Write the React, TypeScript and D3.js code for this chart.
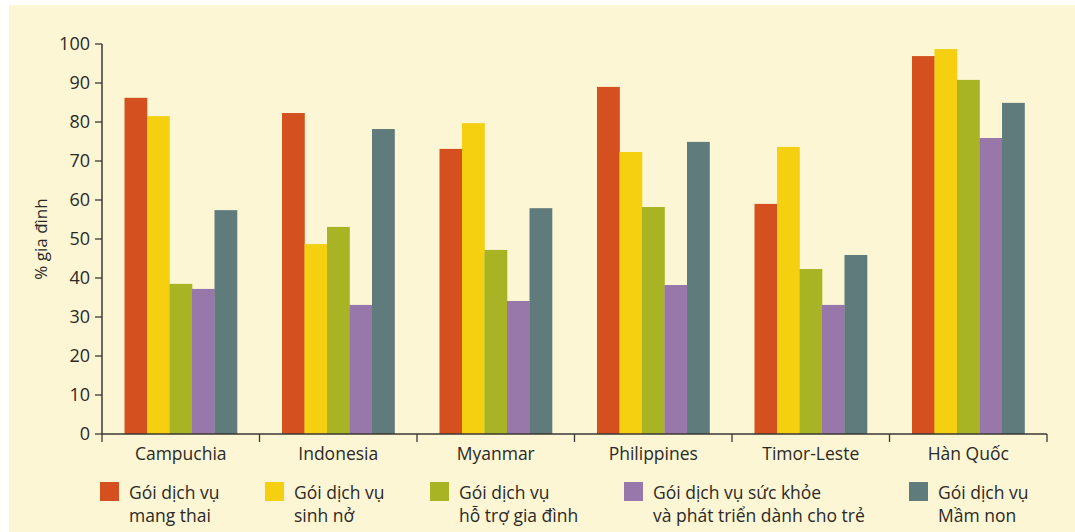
import React from 'react';
import * as d3 from 'd3';

const countries = ['Campuchia', 'Indonesia', 'Myanmar', 'Philippines', 'Timor-Leste', 'Hàn Quốc'];
const seriesKeys = ['mangThai', 'sinhNo', 'hoTro', 'sucKhoe', 'mamNon'];
const seriesLabels = [
  ['Gói dịch vụ', 'mang thai'],
  ['Gói dịch vụ', 'sinh nở'],
  ['Gói dịch vụ', 'hỗ trợ gia đình'],
  ['Gói dịch vụ sức khỏe', 'và phát triển dành cho trẻ'],
  ['Gói dịch vụ', 'Mầm non'],
];
const colors = ['#D4501E', '#F4D010', '#A8B424', '#9877AB', '#5F7B7B'];

const mangThai = [86.2, 82.3, 73.1, 89.0, 59.0, 96.9];
const sinhNo = [81.5, 48.7, 79.7, 72.3, 73.6, 98.7];
const hoTro = [38.5, 53.1, 47.2, 58.2, 42.3, 90.8];
const sucKhoe = [37.2, 33.1, 34.1, 38.2, 33.1, 75.9];
const mamNon = [57.4, 78.2, 57.9, 74.9, 45.9, 84.9];
const yTicks = [0, 10, 20, 30, 40, 50, 60, 70, 80, 90, 100];

const seriesValues = [mangThai, sinhNo, hoTro, sucKhoe, mamNon];

const W = 1075;
const H = 532;
const font = '"Open Sans", "Noto Sans", sans-serif';
const textColor = '#2b2926';

// legend item x positions (square left edge)
const legendX = [100, 265, 430, 624, 909];

export default function App() {
  const margin = { left: 102, right: 28, top: 44, bottom: 98 };

  const x0 = d3
    .scaleBand<string>()
    .domain(countries)
    .range([margin.left, W - margin.right])
    .padding(0);

  const x1 = d3
    .scaleBand<string>()
    .domain(seriesKeys)
    .range([0, x0.bandwidth()])
    .paddingInner(0)
    .paddingOuter(1);

  const y = d3.scaleLinear().domain([0, 100]).range([H - margin.bottom, margin.top]);

  const y0 = y(0);

  return (
    <svg
      width={W}
      height={H}
      style={{ position: 'absolute', left: 0, top: 0, fontFamily: font }}
    >
      <rect x={0} y={0} width={W} height={H} fill="#ffffff" />
      <rect x={9} y={5} width={W - 9} height={H - 5} fill="#FDF6D5" />

      {/* bars */}
      {countries.map((c, ci) => (
        <g key={c} transform={`translate(${x0(c)},0)`}>
          {seriesKeys.map((k, si) => {
            const v = seriesValues[si][ci];
            return (
              <rect
                key={k}
                x={x1(k)}
                y={y(v)}
                width={x1.bandwidth() + 0.3}
                height={y0 - y(v)}
                fill={colors[si]}
              />
            );
          })}
        </g>
      ))}

      {/* y axis */}
      <line x1={margin.left} x2={margin.left} y1={y(100)} y2={y0} stroke="#3a3733" strokeWidth={1.5} />
      {yTicks.map((t) => (
        <g key={t}>
          <line x1={margin.left - 7} x2={margin.left} y1={y(t)} y2={y(t)} stroke="#3a3733" strokeWidth={1.3} />
          <text
            x={margin.left - 12}
            y={y(t)}
            dy="0.35em"
            textAnchor="end"
            fontSize={18}
            fill={textColor}
          >
            {t}
          </text>
        </g>
      ))}
      <text
        transform={`translate(41,${y(50)}) rotate(-90)`}
        textAnchor="middle"
        dy="0.35em"
        fontSize={17}
        fill={textColor}
      >
        % gia đình
      </text>

      {/* x axis */}
      <line x1={margin.left} x2={W - margin.right} y1={y0} y2={y0} stroke="#3a3733" strokeWidth={1.5} />
      {[...countries.map((c) => x0(c) as number), W - margin.right].map((px, i) => (
        <line key={i} x1={px} x2={px} y1={y0} y2={y0 + 8} stroke="#3a3733" strokeWidth={1.3} />
      ))}
      {countries.map((c) => (
        <text
          key={c}
          x={(x0(c) as number) + x0.bandwidth() / 2}
          y={460}
          textAnchor="middle"
          fontSize={17.5}
          fill={textColor}
        >
          {c}
        </text>
      ))}

      {/* legend */}
      {seriesKeys.map((k, i) => (
        <g key={k} transform={`translate(${legendX[i]},482)`}>
          <rect x={0} y={0} width={19} height={19} fill={colors[i]} />
          <text x={29} y={17} fontSize={17.5} fill={textColor}>
            {seriesLabels[i][0]}
          </text>
          <text x={29} y={40} fontSize={17.5} fill={textColor}>
            {seriesLabels[i][1]}
          </text>
        </g>
      ))}
    </svg>
  );
}
